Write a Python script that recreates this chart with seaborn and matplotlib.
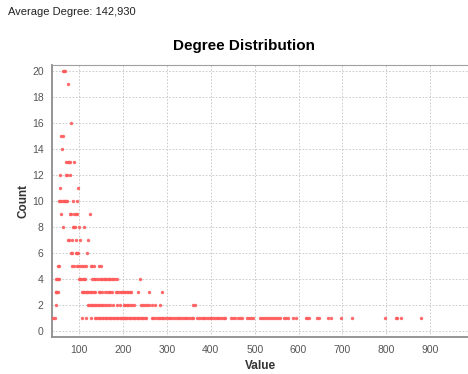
import numpy as np
import pandas as pd
import matplotlib
matplotlib.use("Agg")
import matplotlib.pyplot as plt
import seaborn as sns

# Degree values, grouped by the count at which they sit.
count_20 = [63, 65, 67]
count_19 = [74]
count_16 = [81]
count_15 = [59, 62]
count_14 = [61]
count_13 = [71, 74, 77, 80, 88]
count_12 = [57, 69, 72, 78]
count_11 = [57, 98]
count_10 = [53, 56, 59, 62, 65, 68, 71, 73, 85, 96]
count_9 = [58, 80, 82, 89, 92, 96, 124]
count_8 = [63, 86, 88, 91, 99, 111]
count_7 = [74, 77, 83, 92, 101, 119]
count_6 = [81, 83, 93, 96, 98, 118]
count_5 = [51, 53, 84, 88, 94, 98, 102, 106, 110, 115, 126, 130, 134, 146, 150]
count_4 = [48, 50, 52, 55, 99, 102, 105, 108, 111, 114, 129, 133, 136, 141, 146,
           150, 153, 156, 159, 162, 165, 168, 171, 174, 177, 181, 185, 238]
count_3 = [46, 48, 50, 52, 106, 109, 112, 115, 118, 121, 124, 127, 130, 133, 136,
           144, 148, 152, 158, 164, 167, 171, 175, 183, 187, 191, 195, 198, 201,
           205, 209, 212, 215, 219, 235, 260, 288]
count_2 = [47, 120, 123, 126, 129, 132, 136, 139, 142, 146, 150, 153, 156, 161,
           165, 170, 176, 186, 193, 201, 205, 208, 212, 215, 220, 224, 240, 245,
           250, 255, 260, 266, 272, 283, 360, 365]
count_1 = [41, 44, 107, 116, 127, 136, 139, 142, 145, 148, 151, 155, 158, 161, 164,
           167, 170, 173, 177, 180, 183, 186, 189, 192, 195, 198, 201, 204, 207,
           210, 213, 216, 219, 222, 225, 228, 231, 234, 237, 240, 243, 246, 249,
           252, 265, 269, 273, 277, 281, 284, 288, 292, 296, 300, 304, 308, 312,
           316, 320, 324, 328, 332, 336, 340, 344, 348, 352, 356, 360, 369, 373,
           377, 381, 385, 389, 393, 397, 401, 405, 409, 413, 417, 421, 425, 429,
           433, 446, 450, 454, 463, 467, 472, 483, 487, 491, 496, 512, 516, 520,
           525, 530, 535, 539, 543, 548, 552, 557, 566, 571, 576, 588, 595, 616,
           620, 624, 642, 646, 668, 673, 696, 721, 796, 822, 825, 833, 879]

levels = {20: count_20, 19: count_19, 16: count_16, 15: count_15, 14: count_14,
          13: count_13, 12: count_12, 11: count_11, 10: count_10, 9: count_9,
          8: count_8, 7: count_7, 6: count_6, 5: count_5, 4: count_4, 3: count_3,
          2: count_2, 1: count_1}

rows = []
for cnt, vals in levels.items():
    for v in vals:
        rows.append((v, cnt))
df = pd.DataFrame(rows, columns=["Value", "Count"])

average_degree = "142,930"
x_ticks = [100, 200, 300, 400, 500, 600, 700, 800, 900]
y_ticks = [0, 2, 4, 6, 8, 10, 12, 14, 16, 18, 20]

sns.set_style("white")
plt.rcParams["font.family"] = ["Liberation Sans", "DejaVu Sans"]

fig = plt.figure(figsize=(4.68, 3.74), dpi=100)
ax = fig.add_axes([52 / 468, 1 - 336.5 / 374, 1 - 52 / 468, (336.5 - 65) / 374])

sns.scatterplot(data=df, x="Value", y="Count", ax=ax, color="#ff5a5a",
                s=6, linewidth=0, alpha=0.9, zorder=3)

ax.set_xlim(38, 986)
ax.set_ylim(-0.4, 20.45)
ax.set_xticks(x_ticks)
ax.set_yticks(y_ticks)
ax.grid(True, color="#c4c4c4", linestyle=(0, (2, 2)), linewidth=0.6, zorder=0)

for side in ["left", "bottom"]:
    ax.spines[side].set_color("#8c8c8c")
    ax.spines[side].set_linewidth(1.3)
ax.spines["top"].set_color("#a0a0a0")
ax.spines["top"].set_linewidth(0.8)
ax.spines["right"].set_visible(False)

ax.tick_params(axis="both", labelsize=7.5, colors="#555555", length=2, width=0.6,
               pad=4)
ax.set_xlabel("Value", fontsize=8.5, fontweight="bold", color="#333333", labelpad=4)
ax.set_ylabel("Count", fontsize=8.5, fontweight="bold", color="#333333", labelpad=2)

fig.text(244 / 468, 1 - 46 / 374, "Degree Distribution", ha="center", va="center",
         fontsize=11, fontweight="bold", color="#000000")
fig.text(8 / 468, 1 - 12 / 374, "Average Degree: " + average_degree, ha="left",
         va="center", fontsize=8, color="#222222")

fig.savefig("out.png", dpi=100, facecolor="white")
